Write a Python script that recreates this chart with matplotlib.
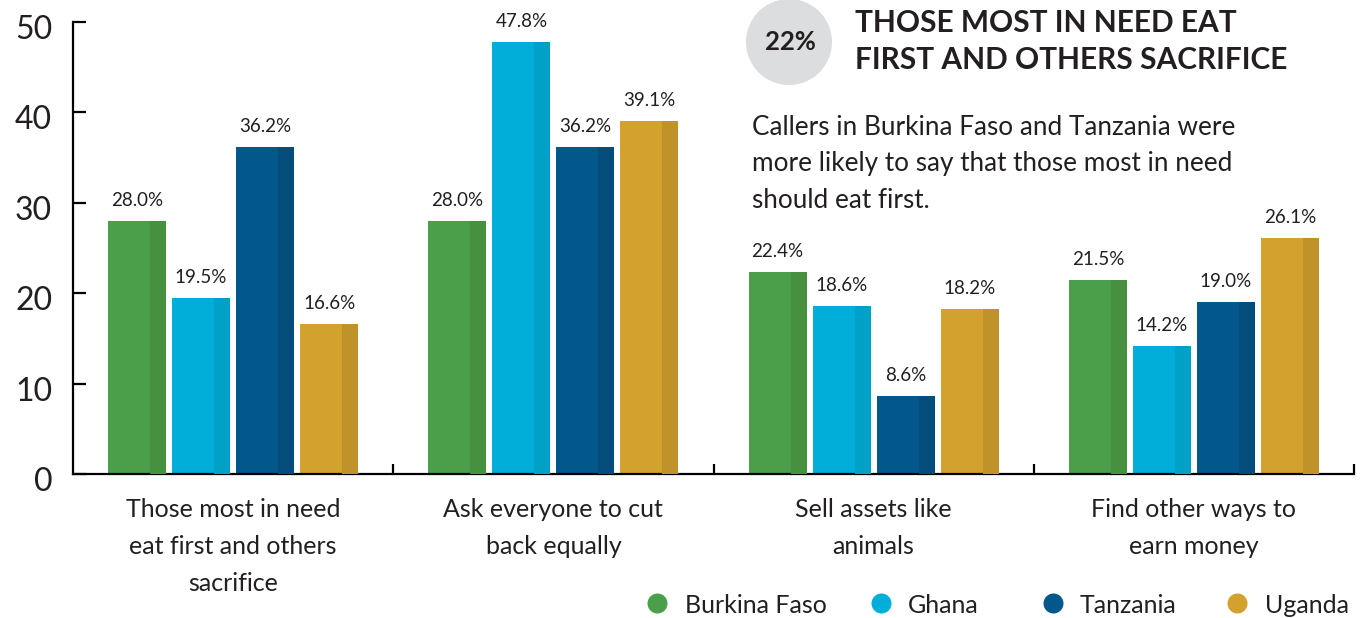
import matplotlib
matplotlib.use("Agg")
import matplotlib.pyplot as plt
from matplotlib.patches import Circle
from matplotlib.lines import Line2D
from matplotlib.transforms import ScaledTranslation, blended_transform_factory
import numpy as np

# ---- data ----
categories = [
    "Those most in need\neat first and others\nsacrifice",
    "Ask everyone to cut\nback equally",
    "Sell assets like\nanimals",
    "Find other ways to\nearn money",
]
countries = ["Burkina Faso", "Ghana", "Tanzania", "Uganda"]
burkina_faso = [28.0, 28.0, 22.4, 21.5]
ghana = [19.5, 47.8, 18.6, 14.2]
tanzania = [36.2, 36.2, 8.6, 19.0]
uganda = [16.6, 39.1, 18.2, 26.1]
series = [burkina_faso, ghana, tanzania, uganda]
y_ticks = [0, 10, 20, 30, 40, 50]

badge_text = "22%"
title_lines = ["THOSE MOST IN NEED EAT", "FIRST AND OTHERS SACRIFICE"]
note_lines = [
    "Callers in Burkina Faso and Tanzania were",
    "more likely to say that those most in need",
    "should eat first.",
]

# ---- style ----
main_colors = ["#4b9f4a", "#00aed9", "#02578b", "#d3a22e"]
shade_colors = ["#46903f", "#00a0c7", "#044c7b", "#c0922a"]
text_color = "#231f20"
FONT = ["Lato", "DejaVu Sans"]
WEIGHT = "normal"

W, H, DPI = 1367, 618, 100
fig = plt.figure(figsize=(W / DPI, H / DPI), dpi=DPI)
fig.patch.set_facecolor("white")


def fx(px):
    return px / W


def fy(py):
    return (H - py) / H


ax = fig.add_axes([fx(73), fy(474), fx(1354) - fx(73), fy(22) - fy(474)])

bar_w = 0.18125
pitch = 0.2
shade_frac = 0.276
x = np.arange(len(categories)) + 0.5

for j, (vals, c_main, c_shade) in enumerate(zip(series, main_colors, shade_colors)):
    centers = x + (j - 1.5) * pitch
    ax.bar(centers, vals, width=bar_w, color=c_main, linewidth=0, zorder=2)
    # darker strip on the right edge of each bar
    right_edges = centers + bar_w / 2
    ax.bar(right_edges, vals, width=-bar_w * shade_frac, align="edge",
           color=c_shade, linewidth=0, zorder=3)
    for cx, v in zip(centers, vals):
        ax.annotate(f"{v:.1f}%", xy=(cx, v), xytext=(0, 10.8),
                    textcoords="offset points", ha="center", va="baseline",
                    fontsize=13.5, family=FONT, fontweight=WEIGHT,
                    color=text_color)

ax.set_xlim(0, len(categories))
ax.set_ylim(0, 50)
for s in ["top", "right"]:
    ax.spines[s].set_visible(False)
for s in ["left", "bottom"]:
    ax.spines[s].set_linewidth(1.6)
    ax.spines[s].set_color("black")

ax.set_yticks(y_ticks)
ax.set_yticklabels([str(t) for t in y_ticks])
ax.tick_params(axis="y", direction="in", length=9.4, width=1.6, pad=15,
               labelsize=23, labelcolor=text_color)
for lab in ax.get_yticklabels():
    lab.set_family(FONT)
    lab.set_fontweight(WEIGHT)
    lab.set_transform(lab.get_transform() +
                      ScaledTranslation(0, -5 / DPI, fig.dpi_scale_trans))

ax.set_xticks(np.arange(1, len(categories) + 1))
ax.set_xticklabels([])
ax.tick_params(axis="x", direction="in", length=7.2, width=1.6)

# category labels below the axis, one line at a time
lab_tr = blended_transform_factory(ax.transData, fig.transFigure)
for cx, cat in zip(x, categories):
    for k, line in enumerate(cat.split("\n")):
        ax.text(cx, fy(517 + 37 * k), line, transform=lab_tr, ha="center",
                va="baseline", fontsize=18, family=FONT, fontweight=WEIGHT,
                color=text_color, clip_on=False)

# badge with percentage
badge = Circle((7.89, (H - 42) / DPI), 0.43, transform=fig.dpi_scale_trans,
               facecolor="#dcdddf", edgecolor="none")
fig.add_artist(badge)
fig.text(fx(790), fy(50), badge_text, ha="center", va="baseline",
         fontsize=18.5, family=FONT, fontweight="bold", color=text_color)

# heading
for k, line in enumerate(title_lines):
    fig.text(fx(855), fy(32 + 37 * k), line, ha="left", va="baseline",
             fontsize=21.5, family=FONT, fontweight="bold", color=text_color)

# note
for k, line in enumerate(note_lines):
    fig.text(fx(752), fy(135 + 36.5 * k), line, ha="left", va="baseline",
             fontsize=18.8, family=FONT, fontweight=WEIGHT, color=text_color)

# legend
legend_marker_x = [657, 881, 1053, 1237]
legend_text_x = [685, 908, 1080, 1265]
for name, c, mx, tx in zip(countries, main_colors, legend_marker_x, legend_text_x):
    fig.add_artist(Line2D([fx(mx)], [fy(603)], marker="o", markersize=14.4,
                          markerfacecolor=c, markeredgewidth=0,
                          linestyle="none", transform=fig.transFigure))
    fig.text(fx(tx), fy(613), name, ha="left", va="baseline", fontsize=18,
             family=FONT, fontweight=WEIGHT, color=text_color)

fig.savefig("out.png", dpi=DPI, facecolor="white")
